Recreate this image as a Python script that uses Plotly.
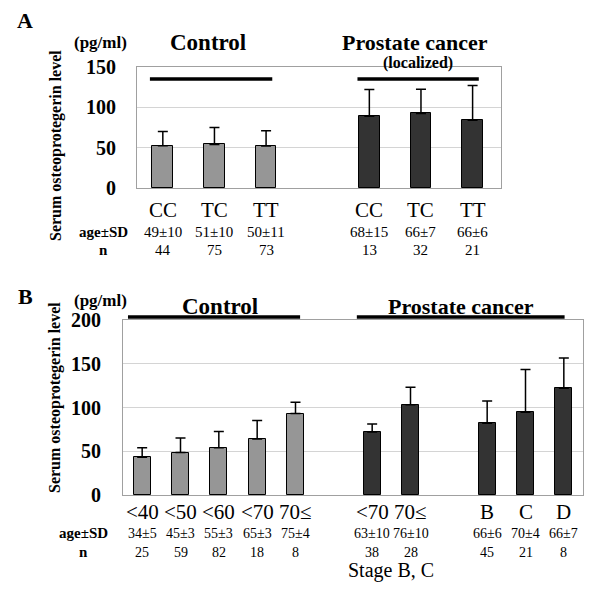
import plotly.graph_objects as go

# page is shown with the browser's 8px body margin, so the figure is a bit smaller
PAD = 8
W, H = 600 - 2 * PAD, 597 - 2 * PAD

# Panel A: OPG by genotype
genotypes = ["CC", "TC", "TT"]
ctrl_a_mean = [52.5, 54, 52]
ctrl_a_err = [17.5, 21, 19]
ctrl_a_age = ["49±10", "51±10", "50±11"]
ctrl_a_n = ["44", "75", "73"]
canc_a_mean = [89, 92.5, 84]
canc_a_err = [33, 30, 43]
canc_a_age = ["68±15", "66±7", "66±6"]
canc_a_n = ["13", "32", "21"]

# Panel B: OPG by age / stage
ctrl_b_cats = ["<40", "<50", "<60", "<70", "70≤"]
ctrl_b_mean = [43, 48.5, 54, 64, 93]
ctrl_b_err = [11, 16.5, 18.5, 21, 13]
ctrl_b_age = ["34±5", "45±3", "55±3", "65±3", "75±4"]
ctrl_b_n = ["25", "59", "82", "18", "8"]
canc_b_cats = ["<70", "70≤", "B", "C", "D"]
canc_b_mean = [72, 103, 82, 94.5, 122]
canc_b_err = [9, 20, 25.5, 49, 34.5]
canc_b_age = ["63±10", "76±10", "66±6", "70±4", "66±7"]
canc_b_n = ["38", "28", "45", "21", "8"]

pos_a_ctrl = [0, 1, 2]
pos_a_canc = [4, 5, 6]
pos_b_ctrl = [0, 1, 2, 3, 4]
pos_b_canc = [6, 7, 9, 10, 11]

GRAY = "#969696"
DARK = "#333333"
SERIF = "Liberation Serif"


def py(y):
    return 1 - (y - PAD) / H


def px(x):
    return (x - PAD) / W


fig = go.Figure()


def add_bars(x, y, err, color, xa, ya, width):
    fig.add_trace(
        go.Bar(
            x=x,
            y=y,
            width=width,
            marker=dict(color=color, line=dict(color="black", width=1)),
            error_y=dict(
                type="data",
                symmetric=False,
                array=err,
                arrayminus=[0] * len(err),
                color="black",
                thickness=1.5,
                width=5,
            ),
            xaxis=xa,
            yaxis=ya,
            showlegend=False,
        )
    )


add_bars(pos_a_ctrl, ctrl_a_mean, ctrl_a_err, GRAY, "x", "y", 0.4)
add_bars(pos_a_canc, canc_a_mean, canc_a_err, DARK, "x", "y", 0.4)
add_bars(pos_b_ctrl, ctrl_b_mean, ctrl_b_err, GRAY, "x2", "y2", 0.44)
add_bars(pos_b_canc, canc_b_mean, canc_b_err, DARK, "x2", "y2", 0.44)

axis_common = dict(
    showline=True,
    linecolor="#a0a0a0",
    linewidth=1,
    mirror=True,
    zeroline=False,
    automargin=False,
)
fig.update_layout(
    template="none",
    width=W,
    height=H,
    margin=dict(l=0, r=0, t=0, b=0, pad=0),
    paper_bgcolor="white",
    plot_bgcolor="white",
    font=dict(family=SERIF, color="black"),
    bargap=0,
    xaxis=dict(
        domain=[px(137), px(501)], range=[-0.5, 6.55], showticklabels=False,
        showgrid=False, ticks="", anchor="y", **axis_common
    ),
    yaxis=dict(
        domain=[py(188), py(67)], range=[0, 150], tickvals=[0, 50, 100, 150],
        gridcolor="#d4d4d4", ticks="", anchor="x", ticklabelstandoff=16,
        tickfont=dict(size=20, family=SERIF, weight="bold"), **axis_common
    ),
    xaxis2=dict(
        domain=[px(123), px(583)], range=[-0.5, 11.5], showticklabels=False,
        showgrid=False, ticks="", anchor="y2", **axis_common
    ),
    yaxis2=dict(
        domain=[py(495), py(320)], range=[0, 200], tickvals=[0, 50, 100, 150, 200],
        gridcolor="#d4d4d4", ticks="", anchor="x2", ticklabelstandoff=17,
        tickfont=dict(size=20, family=SERIF, weight="bold"), **axis_common
    ),
)

ann = []


def text(x, y, s, size, bold=False, xref="paper", angle=0):
    ann.append(
        dict(
            x=x, y=y, xref=xref, yref="paper", text=s, showarrow=False,
            xanchor="center", yanchor="middle", textangle=angle,
            font=dict(family=SERIF, size=size, color="black",
                      weight="bold" if bold else "normal"),
        )
    )


# row labels under bars
def rows(pos, cats, ages, ns, xref, ycat, yage, yn, small):
    for p, c, a, n in zip(pos, cats, ages, ns):
        text(p, py(ycat), c, 21, xref=xref)
        text(p, py(yage), a, small, xref=xref)
        text(p, py(yn), n, small, xref=xref)


rows(pos_a_ctrl, genotypes, ctrl_a_age, ctrl_a_n, "x", 210, 232, 250, 15)
rows(pos_a_canc, genotypes, canc_a_age, canc_a_n, "x", 210, 232, 250, 15)
rows(pos_b_ctrl, ctrl_b_cats, ctrl_b_age, ctrl_b_n, "x2", 512, 533, 552, 14)
rows(pos_b_canc, canc_b_cats, canc_b_age, canc_b_n, "x2", 512, 533, 552, 14)

# Panel A labels
text(px(25), py(21), "A", 22, True)
text(px(100), py(43), "(pg/ml)", 17, True)
text(px(208), py(43), "Control", 23, True)
text(px(415), py(42), "Prostate cancer", 22, True)
text(px(418), py(63), "(localized)", 16, True)
text(px(56), py(146), "Serum osteoprotegerin level", 16, True, angle=-90)
text(px(103), py(232), "age±SD", 15, True)
text(px(103), py(250), "n", 15, True)

# Panel B labels
text(px(25), py(296), "B", 22, True)
text(px(100), py(300), "(pg/ml)", 17, True)
text(px(220), py(306), "Control", 23, True)
text(px(461), py(306), "Prostate cancer", 22, True)
text(px(55), py(398), "Serum osteoprotegerin level", 16, True, angle=-90)
text(px(83), py(533), "age±SD", 15, True)
text(px(83), py(552), "n", 15, True)
text(sum(pos_b_canc[:2]) / 2, py(570), "Stage B, C", 20, xref="x2")

fig.update_layout(annotations=ann)

# group bars
shapes = []
for pos, xref, lo, hi, y in [
    (pos_a_ctrl, "x", 0.25, 0.12, 79),
    (pos_a_canc, "x", 0.23, 0.12, 79),
    (pos_b_ctrl, "x2", 0.37, 0.12, 317),
    (pos_b_canc, "x2", 0.4, 0.02, 317),
]:
    shapes.append(
        dict(type="line", xref=xref, yref="paper", x0=min(pos) - lo,
             x1=max(pos) + hi, y0=py(y), y1=py(y),
             line=dict(color="black", width=3.5))
    )
fig.update_layout(shapes=shapes)

fig.write_html("out.html")
